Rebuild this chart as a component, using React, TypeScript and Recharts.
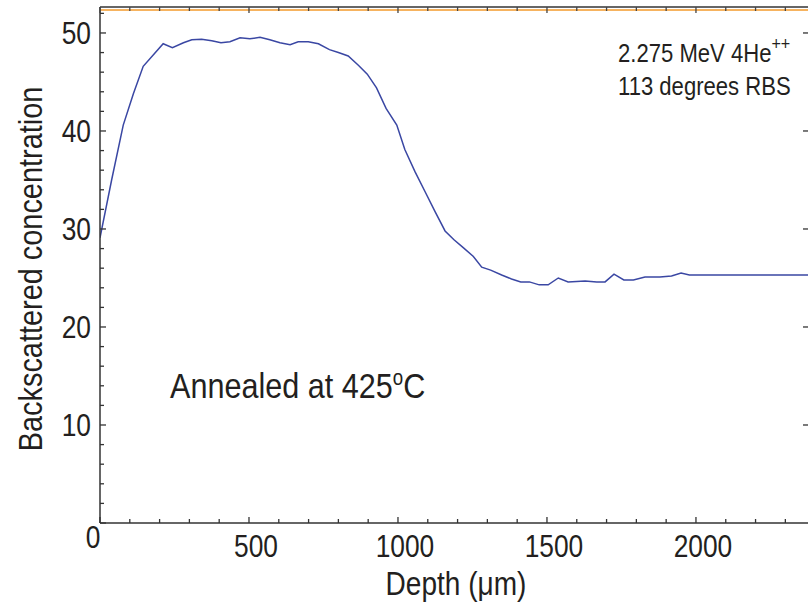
import { LineChart, Line, XAxis, YAxis, ReferenceLine, Label } from 'recharts'

// depth (µm) and backscattered concentration
const depth = [
  0, 39, 78, 112, 145, 212, 243, 280, 308, 341, 375, 406, 436, 470, 503, 537, 570, 604, 638, 665,
  699, 733, 770, 800, 833, 867, 897, 928, 960, 996, 1023, 1057, 1091, 1124, 1158, 1188, 1219, 1253, 1281, 1311,
  1348, 1381, 1412, 1441, 1474, 1504, 1538, 1571, 1628, 1667, 1695, 1725, 1758, 1790, 1829, 1879, 1918, 1950, 1978, 2376,
]
const concentration = [
  29.1, 35, 40.6, 43.8, 46.6, 48.9, 48.5, 49.0, 49.3, 49.35, 49.2, 49.0, 49.1, 49.5, 49.4, 49.55, 49.3, 49.0, 48.8, 49.1,
  49.1, 48.9, 48.3, 48.0, 47.65, 46.7, 45.8, 44.4, 42.3, 40.6, 38.1, 35.85, 33.8, 31.8, 29.8, 28.9, 28.1, 27.2, 26.1, 25.8,
  25.3, 24.9, 24.6, 24.6, 24.3, 24.3, 25.0, 24.6, 24.7, 24.6, 24.6, 25.4, 24.8, 24.8, 25.1, 25.1, 25.2, 25.5, 25.3, 25.3,
]
const surfaceLevel = 52.35

const xTicks = [0, 100, 200, 300, 400, 500, 600, 700, 800, 900, 1000, 1100, 1200, 1300, 1400, 1500, 1600, 1700, 1800, 1900, 2000, 2100, 2200, 2300]
const yTicks = [0, 2, 4, 6, 8, 10, 12, 14, 16, 18, 20, 22, 24, 26, 28, 30, 32, 34, 36, 38, 40, 42, 44, 46, 48, 50, 52]
const yMajorTicks = [10, 20, 30, 40, 50]

const data = depth.map((d, i) => ({ depth: d, conc: concentration[i] }))

const FONT = '"Liberation Sans", Arial, Helvetica, sans-serif'
const INK = '#231f20'
const SQUEEZE = 0.85

const Narrow = ({ x, y, size, anchor = 'start', rotate = 0, children }: any) => (
  <text
    transform={`translate(${x},${y}) rotate(${rotate}) scale(${SQUEEZE},1)`}
    fontSize={size}
    fontFamily={FONT}
    textAnchor={anchor}
    fill={INK}
  >
    {children}
  </text>
)

const BottomTick = ({ x, y, payload }: any) => {
  const v = payload.value
  const major = v % 500 === 0
  return (
    <g>
      <line x1={x} x2={x} y1={y} y2={y - (major ? 6 : 4)} stroke="#333" strokeWidth={1.3} />
      {major && (v === 0
        ? <Narrow x={x - 7} y={y + 25} size={31} anchor="middle">0</Narrow>
        : <Narrow x={x + 7} y={y + 34} size={31} anchor="middle">{v}</Narrow>)}
    </g>
  )
}

const TopTick = ({ x, y, payload }: any) => {
  const major = payload.value % 500 === 0
  return <line x1={x} x2={x} y1={y} y2={y + (major ? 6 : 4)} stroke="#444" strokeWidth={1.3} />
}

const LeftTick = ({ x, y, payload }: any) => {
  const v = payload.value
  const major = v % 10 === 0
  return (
    <g>
      <line x1={x} x2={x + (major ? 6 : 4)} y1={y} y2={y} stroke="#333" strokeWidth={1.3} />
      {major && v > 0 && <Narrow x={x - 9} y={y + 11} size={31} anchor="end">{v}</Narrow>}
    </g>
  )
}

const RightTick = ({ x, y }: any) => (
  <line x1={x - 5} x2={x} y1={y} y2={y} stroke="#333" strokeWidth={1.3} />
)

export default function App() {
  return (
    <div style={{ position: 'absolute', left: 0, top: 0, background: '#fff' }}>
      <LineChart width={809} height={606} data={data} margin={{ top: 6, right: 0, bottom: 0, left: 0 }}>
        <XAxis
          xAxisId="bottom"
          dataKey="depth"
          type="number"
          domain={[0, 2376]}
          ticks={xTicks}
          interval={0}
          height={83}
          tickSize={0}
          tickMargin={0}
          tickLine={false}
          tick={<BottomTick />}
          axisLine={{ stroke: '#333', strokeWidth: 1.5 }}
          allowDataOverflow
        >
          <Label
            content={() => (
              <g>
                <Narrow x={456} y={595} size={33} anchor="middle">Depth (μm)</Narrow>
                <Narrow x={42} y={269} size={34} anchor="middle" rotate={-90}>Backscattered concentration</Narrow>
                <text transform={`translate(170,398) scale(${SQUEEZE},1)`} fontSize={36} fontFamily={FONT} fill={INK}>
                  Annealed at 425<tspan fontSize={22} dy={-13}>o</tspan><tspan fontSize={36} dy={13}>C</tspan>
                </text>
                <text transform={`translate(618,62) scale(${SQUEEZE},1)`} fontSize={26} fontFamily={FONT} fill={INK}>
                  2.275 MeV 4He<tspan fontSize={19} dy={-12}>++</tspan>
                </text>
                <Narrow x={618} y={95} size={26}>113 degrees RBS</Narrow>
              </g>
            )}
          />
        </XAxis>
        <XAxis
          xAxisId="top"
          orientation="top"
          dataKey="depth"
          type="number"
          domain={[0, 2376]}
          ticks={xTicks}
          interval={0}
          height={1}
          tickSize={0}
          tickMargin={0}
          tickLine={false}
          tick={<TopTick />}
          axisLine={{ stroke: '#666', strokeWidth: 2 }}
          allowDataOverflow
        />
        <YAxis
          yAxisId="left"
          type="number"
          domain={[0, 52.65]}
          ticks={yTicks}
          interval={0}
          width={100}
          tickSize={0}
          tickMargin={0}
          tickLine={false}
          tick={<LeftTick />}
          axisLine={{ stroke: '#333', strokeWidth: 1.5 }}
          allowDataOverflow
        />
        <YAxis
          yAxisId="right"
          orientation="right"
          type="number"
          domain={[0, 52.65]}
          ticks={yMajorTicks}
          interval={0}
          width={1}
          tickSize={0}
          tickMargin={0}
          tickLine={false}
          tick={<RightTick />}
          axisLine={false}
          allowDataOverflow
        />
        <ReferenceLine xAxisId="bottom" yAxisId="left" y={surfaceLevel} stroke="#f39a2b" strokeWidth={1.6} />
        <Line
          xAxisId="bottom"
          yAxisId="left"
          type="linear"
          dataKey="conc"
          stroke="#3a47a3"
          strokeWidth={1.5}
          dot={false}
          isAnimationActive={false}
        />
      </LineChart>
    </div>
  )
}
